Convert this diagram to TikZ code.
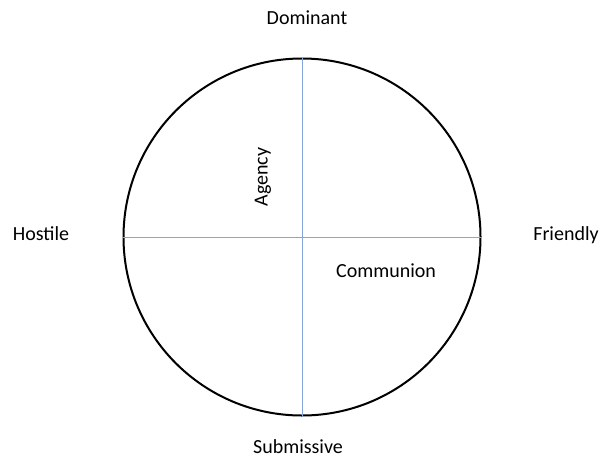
\documentclass[tikz,border=0pt]{standalone}
\usepackage{fontspec}
\setmainfont{Carlito}
\usepackage{xcolor}
\usepackage{tikz}
\usetikzlibrary{positioning,calc}
\definecolor{axisblue}{RGB}{135,165,220}

\begin{document}
\begin{tikzpicture}[
    x=0.75pt,y=-0.75pt,
    pole/.style={font=\fontsize{15}{18}\selectfont,text=black},
    axisline/.style={draw=axisblue,line width=0.6pt},
]
    \useasboundingbox (0,0) rectangle (602,460);

    % circumplex
    \node[draw,circle,line width=1.5pt,minimum size=357*0.75pt,inner sep=0pt] (circ) at (302,237) {};

    \draw[axisline] (circ.north) -- (circ.south);
    \draw[axisline] (circ.west) -- (circ.east);

    % poles
    \node[pole] (dom) at (307,18) {Dominant};
    \node[pole] (sub) at (298,447) {Submissive};
    \node[pole] (hos) at (41,234) {Hostile};
    \node[pole] (fri) at (566,235) {Friendly};

    % axis names
    \node[pole,rotate=90] (agency) at (263,177) {Agency};
    \node[pole] (communion) at (386,271) {Communion};
\end{tikzpicture}
\end{document}
